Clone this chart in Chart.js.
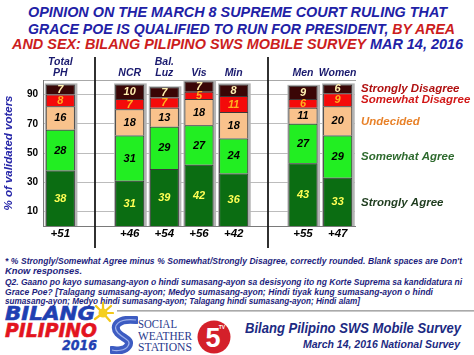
<!DOCTYPE html>
<html>
<head>
<meta charset="utf-8">
<script src="https://cdn.jsdelivr.net/npm/chart.js@4/dist/chart.umd.min.js"></script>
<style>
  html, body { margin:0; padding:0; background:#fff; }
  body { width:474px; height:355px; position:relative; overflow:hidden; font-family:"Liberation Sans", Arial, sans-serif; }
  .t { position:absolute; white-space:nowrap; display:inline-block; transform-origin:left center; font-weight:bold; font-style:italic; }
  .title { font-size:15px; line-height:16px; color:#2121a6; }
  .red { color:#cc1d1d; }
  .fn { font-size:8.5px; line-height:10px; color:#1d1d7c; }
  #chartBox { position:absolute; left:0; top:50px; width:474px; height:200px; }
  .sws { position:absolute; white-space:nowrap; display:inline-block; transform-origin:left center; font-family:"Liberation Serif", serif; font-size:12.5px; line-height:12px; color:#2a3a8c; }
</style>
</head>
<body>
<!-- Title -->
<span class="t title" style="left:28px; top:4px;" data-w="419">OPINION ON THE MARCH 8 SUPREME COURT RULING THAT</span>
<span class="t title" style="left:28px; top:21px;" data-w="427">GRACE POE IS QUALIFIED TO RUN FOR PRESIDENT, <span class="red">BY AREA</span></span>
<span class="t title" style="left:12px; top:36px;" data-w="451"><span class="red">AND SEX: BILANG PILIPINO SWS MOBILE SURVEY</span> MAR 14, 2016</span>

<div id="chartBox"><canvas id="c" width="474" height="200"></canvas></div>

<!-- Footnote -->
<span class="t fn" style="left:5px; top:256px;" data-w="457" data-j="1">* % Strongly/Somewhat Agree minus % Somewhat/Strongly Disagree, correctly rounded. Blank spaces are Don't</span>
<span class="t fn" style="left:5px; top:266px;" data-w="77">Know responses.</span>
<span class="t fn" style="left:5px; top:277px;" data-w="457" data-j="1">Q2. Gaano po kayo sumasang-ayon o hindi sumasang-ayon sa desisyong ito ng Korte Suprema sa kandidatura ni</span>
<span class="t fn" style="left:5px; top:287px;" data-w="428" data-j="1">Grace Poe? [Talagang sumasang-ayon; Medyo sumasang-ayon; Hindi tiyak kung sumasang-ayon o hindi</span>
<span class="t fn" style="left:5px; top:296px;" data-w="355" data-j="1">sumasang-ayon; Medyo hindi sumasang-ayon; Talagang hindi sumasang-ayon; Hindi alam]</span>

<!-- Bottom banner -->
<div style="position:absolute; left:117px; top:310px; width:357px; height:2px; background:linear-gradient(#9a9a9a,#d8d8d8);"></div>
<span class="t" style="left:5px; top:302px; font-family:'DejaVu Sans',sans-serif; font-size:20px; line-height:22px; color:#1f40b2; -webkit-text-stroke:0.6px #1f40b2;" data-w="90">BILANG</span>
<span class="t" style="left:5px; top:319px; font-family:'DejaVu Sans',sans-serif; font-size:20px; line-height:22px; color:#e3141e; -webkit-text-stroke:0.6px #e3141e;" data-w="92">PILIPINO</span>
<span class="t" style="left:62px; top:338px; font-family:'DejaVu Sans',sans-serif; font-size:14px; line-height:15px; color:#1f40b2; -webkit-text-stroke:0.4px #1f40b2;" data-w="35">2016</span>
<svg style="position:absolute; left:92px; top:302px;" width="22" height="22" viewBox="0 0 22 22">
  <g stroke="#f2c81a" stroke-width="2.2" stroke-linecap="round">
    <line x1="11" y1="11" x2="11" y2="1"/><line x1="11" y1="11" x2="19" y2="4"/><line x1="11" y1="11" x2="21" y2="11"/>
    <line x1="11" y1="11" x2="18" y2="19"/><line x1="11" y1="11" x2="4" y2="4"/><line x1="11" y1="11" x2="3" y2="17"/>
  </g>
  <circle cx="11" cy="11" r="4.5" fill="#f5cf1f"/>
</svg>
<svg style="position:absolute; left:110px; top:316px;" width="28" height="38" viewBox="0 0 28 38">
  <path d="M26 4 C 8 2, 2 10, 8 17 C 14 23, 22 24, 18 30 C 15 35, 6 35, 2 34" fill="none" stroke="#3d5cc2" stroke-width="8" stroke-linecap="round"/>
  <path d="M26 4 C 8 2, 2 10, 8 17 C 14 23, 22 24, 18 30 C 15 35, 6 35, 2 34" fill="none" stroke="#9fb2ea" stroke-width="1.2"/>
</svg>
<span class="sws" style="left:138px; top:318px;" data-w="39">SOCIAL</span>
<span class="sws" style="left:138px; top:329.5px;" data-w="54">WEATHER</span>
<span class="sws" style="left:138px; top:341px;" data-w="54">STATIONS</span>
<svg style="position:absolute; left:197px; top:320px;" width="34" height="34" viewBox="0 0 34 34">
  <circle cx="17" cy="17" r="16.5" fill="#d4202a"/>
  <text x="16" y="27" text-anchor="middle" font-family="Liberation Sans, Arial" font-weight="bold" font-size="27" fill="#fff">5</text>
  <text x="25" y="9" text-anchor="middle" font-family="Liberation Sans, Arial" font-weight="bold" font-size="5" fill="#fff">TV</text>
</svg>
<span class="t" style="left:245px; top:320px; font-size:14px; line-height:16px; color:#1c2a82;" data-w="216">Bilang Pilipino SWS Mobile Survey</span>
<span class="t" style="left:303px; top:338px; font-size:10.5px; line-height:12px; color:#1c2a82;" data-w="157">March 14, 2016 National Survey</span>

<script>
// ---- Data (gap slots are null / empty) ----
const categories   = [['Total','PH'], '', 'NCR', ['Bal.','Luz'], 'Vis', 'Min', '', 'Men', 'Women'];
const netLabels    = ['+51', '', '+46', '+54', '+56', '+42', '', '+55', '+47'];
const stronglyAgree    = [38, null, 31, 39, 42, 36, null, 43, 33];
const somewhatAgree    = [28, null, 31, 29, 27, 24, null, 27, 29];
const undecided        = [16, null, 18, 13, 18, 18, null, 11, 20];
const somewhatDisagree = [ 8, null,  7,  7,  5, 11, null,  6,  9];
const stronglyDisagree = [ 7, null, 10,  7,  7,  8, null,  9,  6];
const seriesNames  = ['Strongly Agree', 'Somewhat Agree', 'Undecided', 'Somewhat Disagree', 'Strongly Disagree'];
const yTicks = [10, 30, 50, 70, 90];
const separatorSlots = [1, 6];

const fillColors  = ['#0b6d12', '#22ee22', '#f9c28c', '#f40a0a', '#3a0606'];
const labelColors = ['#ffff55', '#000000', '#000000', '#ffb020', '#fff0b0'];
const legendColors = ['#1f3d1f', '#2f6b2f', '#e8822a', '#d21818', '#b01010'];
const FAM = '"Liberation Sans", Arial, sans-serif';

const seriesData = [stronglyAgree, somewhatAgree, undecided, somewhatDisagree, stronglyDisagree];

const shadowPlugin = {
  id: 'shadow',
  beforeDatasetsDraw(chart) {
    const c = chart.ctx, top = chart.data.datasets.length - 1;
    const meta = chart.getDatasetMeta(top), base = chart.getDatasetMeta(0);
    c.save();
    c.fillStyle = '#b4b4b4';
    meta.data.forEach((bar, i) => {
      if (chart.data.datasets[top].data[i] == null) return;
      const p = bar.getProps(['x', 'y', 'width'], true);
      const b = base.data[i].getProps(['base'], true).base;
      c.fillRect(p.x - p.width / 2 - 1, p.y - 1, p.width + 3.5, b - p.y + 1);
    });
    c.restore();
  }
};

const valuePlugin = {
  id: 'values',
  afterDatasetsDraw(chart) {
    const c = chart.ctx;
    c.save();
    c.font = 'italic bold 11px ' + FAM;
    c.textAlign = 'center';
    c.textBaseline = 'middle';
    chart.data.datasets.forEach((ds, di) => {
      chart.getDatasetMeta(di).data.forEach((bar, i) => {
        const v = ds.data[i];
        if (v == null) return;
        const p = bar.getProps(['x', 'y', 'base'], true);
        c.fillStyle = labelColors[di];
        c.fillText(String(v), p.x, (p.y + p.base) / 2 + 0.5);
      });
    });
    c.restore();
  }
};

const sidePlugin = {
  id: 'side',
  afterDraw(chart) {
    const c = chart.ctx, area = chart.chartArea, xs = chart.scales.x;
    c.save();
    c.strokeStyle = '#1a1a1a';
    c.lineWidth = 1.8;
    separatorSlots.forEach(s => {
      const x = Math.round(xs.getPixelForValue(s));
      c.beginPath();
      c.moveTo(x, area.top - 23);
      c.lineTo(x, area.bottom + 22);
      c.stroke();
    });
    const last = categories.length - 1;
    c.font = 'italic bold 11.5px ' + FAM;
    c.textAlign = 'left';
    c.textBaseline = 'middle';
    chart.data.datasets.forEach((ds, di) => {
      const bar = chart.getDatasetMeta(di).data[last];
      const p = bar.getProps(['y', 'base'], true);
      c.fillStyle = legendColors[di];
      c.fillText(seriesNames[di], area.right + 6, (p.y + p.base) / 2 + 0.5);
    });
    c.restore();
  }
};

new Chart(document.getElementById('c'), {
  type: 'bar',
  data: {
    labels: categories,
    datasets: seriesData.map((d, i) => ({
      label: seriesNames[i],
      data: d,
      backgroundColor: fillColors[i],
      borderColor: '#3a3a3a',
      borderWidth: 1,
      xAxisID: 'x',
      barPercentage: 0.84,
      categoryPercentage: 1
    }))
  },
  options: {
    responsive: false,
    animation: false,
    devicePixelRatio: 1,
    layout: { padding: { left: 0, right: 119, top: 0, bottom: 4 } },
    plugins: { legend: { display: false }, tooltip: { enabled: false } },
    scales: {
      x: {
        stacked: true,
        position: 'bottom',
        offset: true,
        grid: { display: false, drawTicks: false },
        border: { display: true, color: '#7a7a7a', width: 1 },
        ticks: {
          autoSkip: false, maxRotation: 0, padding: 2, color: '#000',
          font: { family: FAM, size: 11.5, weight: 'bold', style: 'italic', lineHeight: 1 },
          callback: (v, i) => netLabels[i]
        },
        afterFit: s => { s.height = 20; }
      },
      x2: {
        type: 'category',
        labels: categories,
        position: 'top',
        offset: true,
        grid: { display: false, drawTicks: false },
        border: { display: true, color: '#a8a8a8', width: 1 },
        ticks: {
          autoSkip: false, maxRotation: 0, padding: 1, color: '#1a1a6e',
          font: { family: FAM, size: 10.5, weight: 'bold', style: 'italic', lineHeight: 1.05 }
        },
        afterFit: s => { s.height = 30; }
      },
      y: {
        stacked: true,
        min: 0, max: 100,
        afterBuildTicks: s => { s.ticks = yTicks.map(v => ({ value: v })); },
        grid: { color: '#bcbcbc', drawTicks: false },
        border: { display: true, color: '#7a7a7a', width: 1 },
        ticks: { color: '#000', padding: 5, font: { family: FAM, size: 10, weight: 'bold' } },
        title: {
          display: true, text: '% of validated voters', color: '#2626a8',
          font: { family: FAM, size: 11.5, weight: 'bold', style: 'italic' },
          padding: { top: 2, bottom: 0 }
        },
        afterFit: s => { s.width = 43; }
      }
    }
  },
  plugins: [shadowPlugin, valuePlugin, sidePlugin]
});

// fit text widths: justified lines get letter + word spacing, others are scaled
document.querySelectorAll('[data-w]').forEach(el => {
  const w = parseFloat(el.dataset.w);
  const nat = el.getBoundingClientRect().width;
  if (el.dataset.j && nat < w) {
    const txt = el.textContent;
    const n = (txt.match(/ /g) || []).length;
    const extra = w - nat;
    const ls = Math.min(0.35, (extra * 0.5) / txt.length);
    el.style.letterSpacing = ls + 'px';
    const nat2 = el.getBoundingClientRect().width;
    if (n && nat2 < w) el.style.wordSpacing = ((w - nat2) / n) + 'px';
  } else if (nat > 0) {
    el.style.transform = 'scaleX(' + (w / nat) + ')';
  }
});
</script>
</body>
</html>
